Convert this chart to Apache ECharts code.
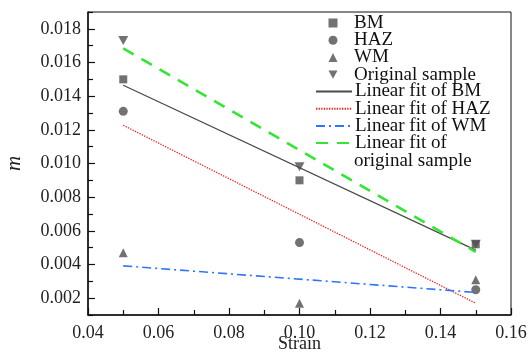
<!DOCTYPE html>
<html>
<head>
<meta charset="utf-8">
<script src="https://cdn.jsdelivr.net/npm/echarts@6/dist/echarts.min.js"></script>
<style>
  html, body { margin: 0; padding: 0; background: #fff; }
  #main { width: 530px; height: 359px; }
</style>
</head>
<body>
<div id="main"></div>
<script>
const strain = [0.05, 0.1, 0.15]
const bm = [0.0150, 0.0090, 0.0052]
const haz = [0.0131, 0.0053, 0.0025]
const wm = [0.0047, 0.0017, 0.0031]
const original = [0.0173, 0.0098, 0.0052]

// fitted lines, end points
const fitX = [0.05, 0.15]
const fitBM = [0.01465, 0.00485]
const fitHAZ = [0.01227, 0.00170]
const fitWM = [0.00392, 0.00234]
const fitOriginal = [0.01684, 0.00475]

const yTicks = [0.002, 0.004, 0.006, 0.008, 0.010, 0.012, 0.014, 0.016, 0.018]
const yMinorTicks = [0.001, 0.003, 0.005, 0.007, 0.009, 0.011, 0.013, 0.015, 0.017, 0.019]

const pts = (xs, ys) => xs.map((x, i) => [x, ys[i]])

const markColor = '#4f4f4f'
const serif = 'Liberation Serif'
const downTriangle = 'path://M0,0L10,0L5,9Z'
const tickFont = { fontFamily: serif, fontSize: 18, color: '#222' }

const myChart = echarts.init(document.getElementById('main'), null, { renderer: 'canvas' })

const option = {
  animation: false,
  textStyle: { fontFamily: serif },
  grid: {
    left: 88, right: 19, top: 12, bottom: 44,
    outerBoundsMode: 'none',
    containLabel: false,
    show: true, borderColor: '#111', borderWidth: 1
  },
  legend: [
    {
      orient: 'vertical',
      left: 328.5,
      top: 13.5,
      padding: 0,
      itemWidth: 9,
      itemHeight: 9,
      itemGap: -1.8,
      textStyle: { fontFamily: serif, fontSize: 19, color: '#111', padding: [0, 0, 0, 11.5] },
      data: ['BM', 'HAZ', 'WM', { name: 'Original sample', icon: downTriangle }]
    },
    {
      orient: 'vertical',
      left: 315,
      top: 82,
      padding: 0,
      itemWidth: 36,
      itemHeight: 9,
      itemGap: -1.8,
      itemStyle: { opacity: 0 },
      textStyle: { fontFamily: serif, fontSize: 19, color: '#111', padding: [0, 0, 0, -2] },
      data: ['Linear fit of BM', 'Linear fit of HAZ', 'Linear fit of WM', 'Linear fit of original sample'],
      formatter: (name) => name === 'Linear fit of original sample' ? 'Linear fit of' : name
    }
  ],
  graphic: [
    {
      type: 'text', left: 354, top: 152,
      style: { text: 'original sample', font: '19px "Liberation Serif"', fill: '#111' }
    }
  ],
  xAxis: {
    type: 'value',
    min: 0.04, max: 0.16, interval: 0.02,
    name: 'Strain', nameLocation: 'middle', nameGap: 20, nameMoveOverlap: false,
    nameTextStyle: { fontFamily: serif, fontSize: 18, color: '#222' },
    axisLine: { lineStyle: { color: '#111', width: 1.5 } },
    axisTick: { inside: true, length: 7, lineStyle: { color: '#111', width: 1.2 } },
    minorTick: { show: true, splitNumber: 2, length: 5, lineStyle: { color: '#111', width: 1.2 } },
    axisLabel: { ...tickFont, margin: 9, formatter: (v) => '{t|' + v.toFixed(2) + '}', rich: { t: tickFont } },
    splitLine: { show: false }
  },
  yAxis: [
    {
      type: 'value',
      min: 0.001, max: 0.019,
      name: 'm', nameLocation: 'middle', nameGap: 63, nameMoveOverlap: false,
      nameTextStyle: { fontFamily: serif, fontStyle: 'italic', fontSize: 21, color: '#222' },
      axisLine: { lineStyle: { color: '#111', width: 1.5 } },
      axisTick: { inside: true, length: 7, customValues: yTicks, lineStyle: { color: '#111', width: 1.2 } },
      axisLabel: { ...tickFont, margin: 7, customValues: yTicks, formatter: (v) => '{t|' + v.toFixed(3) + '}', rich: { t: tickFont } },
      splitLine: { show: false }
    },
    {
      type: 'value',
      position: 'left',
      min: 0.001, max: 0.019,
      axisLine: { show: false },
      axisTick: { inside: true, length: 5, customValues: yMinorTicks, lineStyle: { color: '#111', width: 1.2 } },
      axisLabel: { show: false },
      splitLine: { show: false }
    }
  ],
  series: [
    { name: 'BM', type: 'scatter', symbol: 'rect', symbolSize: 8, itemStyle: { color: markColor }, data: pts(strain, bm) },
    { name: 'HAZ', type: 'scatter', symbol: 'circle', symbolSize: 9, itemStyle: { color: markColor }, data: pts(strain, haz) },
    { name: 'WM', type: 'scatter', symbol: 'triangle', symbolSize: 9, itemStyle: { color: markColor }, data: pts(strain, wm) },
    { name: 'Original sample', type: 'scatter', symbol: downTriangle, symbolSize: [10, 9], itemStyle: { color: markColor }, data: pts(strain, original) },
    { name: 'Linear fit of BM', type: 'line', showSymbol: false, symbol: 'none', lineStyle: { color: '#4a4a4a', width: 1.3 }, itemStyle: { color: '#4a4a4a' }, data: pts(fitX, fitBM) },
    { name: 'Linear fit of HAZ', type: 'line', showSymbol: false, symbol: 'none', lineStyle: { color: '#ff1a1a', width: 1.3, type: [1.3, 1.3] }, itemStyle: { color: '#ff1a1a' }, data: pts(fitX, fitHAZ) },
    { name: 'Linear fit of WM', type: 'line', showSymbol: false, symbol: 'none', lineStyle: { color: '#2f74ff', width: 1.6, type: [9, 4, 2, 4] }, itemStyle: { color: '#2f74ff' }, data: pts(fitX, fitWM) },
    { name: 'Linear fit of original sample', type: 'line', showSymbol: false, symbol: 'none', lineStyle: { color: '#33e633', width: 2.6, type: [12, 9] }, itemStyle: { color: '#33e633' }, data: pts(fitX, fitOriginal) }
  ]
}

myChart.setOption(option)
</script>
</body>
</html>
